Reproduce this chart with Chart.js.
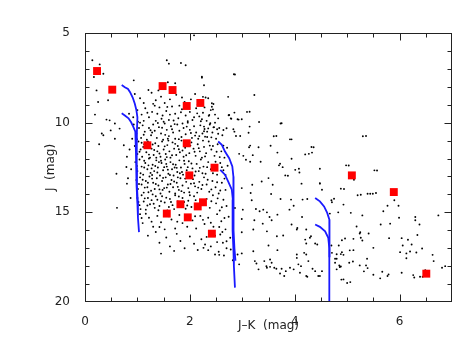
<!DOCTYPE html>
<html>
<head>
<meta charset="utf-8">
<script src="https://cdn.jsdelivr.net/npm/chart.js@4/dist/chart.umd.min.js"></script>
<style>
  html, body { margin: 0; padding: 0; background: #fff; }
  #cmd { display: block; }
</style>
</head>
<body>
<canvas id="cmd" width="466" height="360"></canvas>
<script>
// tick labels
const xTicks = [0, 2, 4, 6];
const yTicks = [5, 10, 15, 20];

// red squares (J-K, J)
const redStars = [
    [0.23, 7.12], [0.52, 8.16], [1.48, 7.96], [1.67, 8.18], [1.94, 9.07], [2.20, 8.90],
    [1.19, 11.26], [1.94, 11.15], [2.47, 12.51], [1.99, 12.94], [1.82, 14.55], [2.15, 14.67],
    [2.25, 14.44], [1.56, 15.07], [1.96, 15.28], [2.42, 16.19], [5.09, 12.94], [5.89, 13.87],
    [6.51, 18.42]
];

// blue tracks
const track1a = [[0.70, 7.9], [0.76, 8.02], [0.82, 8.12], [0.86, 8.3], [0.91, 8.6], [0.95, 8.95], [0.98, 9.3], [1.0, 9.7], [0.99, 10.5], [0.98, 11.5], [0.98, 12.5], [0.99, 13.5], [1.0, 14.5], [1.01, 15.3], [1.03, 16.1]];
const track1b = [[0.70, 9.48], [0.76, 9.6], [0.83, 9.76], [0.88, 9.98], [0.92, 10.22], [0.96, 10.5], [0.97, 10.8], [0.97, 11.5], [0.98, 12.5], [0.99, 13.5], [1.01, 14.6]];
const track2a = [[2.54, 11.05], [2.61, 11.24], [2.67, 11.61], [2.75, 11.98], [2.81, 12.44], [2.83, 13.0], [2.83, 14.0], [2.83, 15.0], [2.84, 16.0], [2.85, 17.0], [2.87, 17.7]];
const track2b = [[2.58, 12.63], [2.67, 12.9], [2.73, 13.28], [2.80, 13.74], [2.82, 14.29], [2.82, 15.0], [2.81, 16.0], [2.83, 17.0], [2.84, 18.0], [2.86, 19.2]];
const track3a = [[4.39, 14.2], [4.48, 14.39], [4.56, 14.67], [4.62, 15.03], [4.66, 15.4], [4.66, 16.0], [4.66, 16.8], [4.67, 17.5]];
const track3b = [[4.39, 15.68], [4.48, 15.81], [4.58, 16.06], [4.64, 16.42], [4.66, 17.0], [4.66, 18.0], [4.66, 19.0], [4.66, 20.0]];

// field stars (J-K, J)
const fieldLeft = [
    [0.14, 6.52], [0.28, 6.75], [0.35, 7.27], [0.17, 7.45], [0.22, 8.2], [0.25, 8.85], [0.44, 8.75],
    [0.19, 9.55], [0.41, 9.83], [0.47, 9.87], [0.32, 10.6], [0.35, 10.7], [0.57, 10.05], [0.57, 10.9],
    [0.27, 11.2], [0.6, 12.85], [0.61, 14.75], [0.49, 10.43], [0.66, 10.33], [0.74, 11.26], [0.80, 13.4],
    [0.93, 7.64], [0.84, 9.5], [0.79, 12.47], [0.85, 11.5], [0.88, 12.6], [0.82, 13.1], [0.87, 14.2],
    [0.9, 10.9], [0.8, 11.9], [2.08, 5.13], [1.56, 6.52], [1.60, 6.71], [1.83, 6.67], [1.92, 6.80],
    [2.84, 7.30], [2.23, 7.49]
];
const fieldCluster = [
    [1.05, 8.64], [1.21, 8.18], [1.27, 8.33], [1.12, 8.9], [1.35, 8.75], [1.45, 8.55], [1.52, 8.9], [1.62, 8.7],
    [1.74, 8.45], [1.85, 8.6], [1.90, 8.85], [2.02, 8.7], [2.10, 8.4], [2.30, 8.6], [1.40, 8.2], [1.58, 7.75],
    [1.72, 7.8], [0.95, 8.4], [2.15, 9.0], [1.30, 8.95],
    [1.0, 9.3], [1.08, 9.55], [1.15, 9.2], [1.22, 9.7], [1.28, 9.4], [1.35, 9.9], [1.42, 9.15], [1.48, 9.6],
    [1.55, 9.35], [1.60, 9.85], [1.66, 9.1], [1.72, 9.5], [1.78, 9.75], [1.85, 9.25], [1.92, 9.6], [2.0, 9.4],
    [2.05, 9.85], [2.12, 9.2], [2.18, 9.65], [2.25, 9.45], [2.32, 9.9], [2.40, 9.3], [2.48, 9.55], [1.12, 9.9],
    [1.50, 9.95], [1.80, 9.05], [2.08, 9.7], [1.38, 9.5], [1.62, 9.55], [1.96, 9.92], [2.28, 9.15], [0.92, 9.7],
    [0.93, 10.1], [0.98, 10.6], [1.03, 10.3], [1.07, 10.85], [1.10, 10.15], [1.14, 10.5], [1.18, 10.95], [1.22, 10.3],
    [1.26, 10.7], [1.30, 10.1], [1.33, 10.45], [1.37, 10.85], [1.41, 10.25], [1.45, 10.6], [1.49, 10.95], [1.52, 10.05],
    [1.56, 10.4], [1.60, 10.75], [1.64, 10.2], [1.68, 10.55], [1.72, 10.9], [1.76, 10.1], [1.80, 10.45], [1.84, 10.8],
    [1.88, 10.3], [1.92, 10.65], [1.96, 10.0], [2.0, 10.4], [2.04, 10.85], [2.08, 10.2], [2.12, 10.55], [2.16, 10.9],
    [2.20, 10.15], [2.24, 10.6], [2.28, 10.35], [2.33, 10.8], [2.38, 10.1], [2.43, 10.55], [2.50, 10.9], [2.56, 10.3],
    [2.62, 10.7], [1.05, 10.0], [1.28, 10.55], [1.58, 10.9], [1.86, 10.05], [2.18, 10.75], [2.46, 10.25],
    [0.95, 11.3], [1.0, 11.75], [1.02, 11.05], [1.06, 11.5], [1.09, 11.9], [1.13, 11.2], [1.17, 11.65], [1.20, 11.05],
    [1.24, 11.95], [1.27, 11.45], [1.31, 11.8], [1.34, 11.15], [1.38, 11.6], [1.40, 11.3], [1.44, 11.9], [1.47, 11.05],
    [1.50, 11.5], [1.54, 11.75], [1.57, 11.25], [1.61, 11.6], [1.63, 11.95], [1.67, 11.1], [1.70, 11.45], [1.74, 11.8],
    [1.77, 11.3], [1.81, 11.65], [1.84, 11.0], [1.88, 11.9], [1.91, 11.4], [1.99, 11.7], [2.03, 11.1], [2.07, 11.45],
    [2.11, 11.85], [2.15, 11.2], [2.19, 11.6], [2.23, 11.95], [2.27, 11.35], [2.31, 11.7], [2.36, 11.05], [2.41, 11.5],
    [2.47, 11.85], [2.53, 11.2], [2.60, 11.6], [2.66, 11.95], [2.71, 11.4], [1.11, 11.35], [1.36, 11.95], [1.59, 11.0],
    [1.86, 11.55], [2.25, 11.0], [2.44, 11.3],
    [0.96, 12.2], [1.0, 12.7], [1.04, 12.05], [1.08, 12.45], [1.11, 12.9], [1.15, 12.25], [1.19, 12.6], [1.22, 12.0],
    [1.25, 12.8], [1.29, 12.35], [1.32, 12.7], [1.36, 12.1], [1.39, 12.5], [1.43, 12.95], [1.46, 12.25], [1.49, 12.65],
    [1.53, 12.05], [1.56, 12.45], [1.59, 12.85], [1.63, 12.2], [1.66, 12.6], [1.69, 12.95], [1.73, 12.35], [1.76, 12.75],
    [1.80, 12.1], [1.83, 12.5], [1.87, 12.9], [1.90, 12.3], [1.94, 12.65], [1.98, 12.15], [2.05, 12.55], [2.09, 12.95],
    [2.13, 12.3], [2.17, 12.7], [2.21, 12.05], [2.26, 12.45], [2.30, 12.85], [2.35, 12.2], [2.40, 12.6], [2.52, 12.9],
    [2.58, 12.25], [2.64, 12.65], [2.72, 12.4], [1.13, 12.5], [1.41, 12.2], [1.71, 12.5], [2.0, 12.8], [1.27, 12.55],
    [1.55, 12.3], [1.85, 12.75],
    [0.98, 13.2], [1.01, 13.7], [1.05, 13.05], [1.08, 13.45], [1.12, 13.9], [1.16, 13.25], [1.19, 13.6], [1.23, 13.0],
    [1.26, 13.8], [1.30, 13.35], [1.33, 13.7], [1.37, 13.1], [1.40, 13.5], [1.44, 13.95], [1.47, 13.25], [1.51, 13.65],
    [1.54, 13.05], [1.58, 13.45], [1.61, 13.85], [1.65, 13.2], [1.68, 13.6], [1.72, 13.95], [1.75, 13.35], [1.79, 13.75],
    [1.82, 13.1], [1.86, 13.5], [1.89, 13.9], [1.93, 13.3], [1.97, 13.65], [2.06, 13.15], [2.10, 13.55], [2.14, 13.9],
    [2.18, 13.3], [2.22, 13.7], [2.27, 13.05], [2.32, 13.45], [2.37, 13.85], [2.43, 13.25], [2.49, 13.6], [2.55, 13.95],
    [2.61, 13.35], [2.68, 13.75], [1.20, 13.35], [1.48, 13.75], [1.77, 13.05], [2.02, 13.4],
    [1.0, 14.2], [1.04, 14.6], [1.08, 14.05], [1.12, 14.4], [1.16, 14.85], [1.20, 14.2], [1.24, 14.55], [1.29, 14.0],
    [1.33, 14.75], [1.38, 14.3], [1.42, 14.65], [1.47, 14.1], [1.52, 14.45], [1.57, 14.9], [1.62, 14.25], [1.67, 14.6],
    [1.72, 14.05], [1.77, 14.4], [1.86, 14.2], [1.92, 14.8], [1.97, 14.35], [2.03, 14.7], [2.08, 14.1], [2.32, 14.25],
    [2.38, 14.75], [2.44, 14.05], [2.50, 14.5], [2.57, 14.9], [2.64, 14.3], [2.70, 14.65], [1.35, 14.1], [1.60, 14.7],
    [2.0, 14.05],
    [1.05, 15.1], [1.10, 15.6], [1.22, 15.3], [1.30, 15.8], [1.38, 15.2], [1.45, 15.55], [1.65, 15.4], [1.72, 15.9],
    [1.80, 15.15], [1.86, 15.6], [2.05, 15.45], [2.12, 15.9], [2.20, 15.2], [2.28, 15.65], [2.35, 15.3], [2.45, 15.8],
    [2.52, 15.1], [2.60, 15.5], [2.68, 15.95], [2.74, 15.25], [1.52, 15.95], [1.95, 15.8],
    [1.20, 16.3], [1.35, 16.1], [1.42, 16.7], [1.55, 16.4], [1.62, 16.9], [1.75, 16.2], [1.82, 16.6], [1.90, 17.0],
    [2.00, 16.35], [2.08, 16.75], [2.15, 17.1], [2.22, 16.5], [2.40, 16.9], [2.48, 16.3], [2.62, 16.1], [2.70, 17.0],
    [1.70, 17.15], [2.55, 17.2], [1.45, 17.3],
    [2.26, 16.98], [2.35, 17.11], [2.48, 17.35], [2.56, 17.37], [2.65, 17.41], [2.52, 16.66], [2.63, 16.7], [2.70, 16.61],
    [2.77, 16.42], [2.78, 17.07], [2.82, 17.67], [2.58, 16.24], [2.32, 16.37], [2.29, 16.79]
];
const fieldCluster2 = [
    [1.01, 9.95], [1.19, 9.45], [1.33, 9.05], [1.46, 9.78], [1.57, 9.12], [1.69, 9.88], [1.83, 9.42], [1.99, 9.18],
    [2.14, 9.48], [2.36, 9.62], [2.21, 9.92], [1.25, 10.42], [1.39, 10.02], [1.53, 10.68], [1.66, 10.37], [1.79, 10.92],
    [1.94, 10.22], [2.10, 10.72], [2.27, 10.48], [2.41, 10.82], [2.54, 10.62], [1.12, 10.67], [0.99, 10.92], [1.47, 10.28],
    [1.71, 10.08], [2.02, 10.58], [2.35, 10.32],
    [1.04, 11.62], [1.15, 11.42], [1.22, 11.78], [1.29, 11.22], [1.42, 11.72], [1.52, 11.32], [1.66, 11.82], [1.72, 11.18],
    [1.79, 11.48], [1.93, 11.82], [2.01, 11.28], [2.09, 11.62], [2.17, 11.42], [2.29, 11.88], [2.38, 11.28], [2.51, 11.62],
    [2.57, 11.92], [2.64, 11.28], [1.08, 11.12], [1.32, 11.52], [1.56, 11.92], [1.95, 11.08],
    [0.99, 12.42], [1.06, 12.82], [1.13, 12.12], [1.21, 12.38], [1.28, 12.92], [1.34, 12.42], [1.38, 12.78], [1.45, 12.12],
    [1.51, 12.48], [1.58, 12.62], [1.62, 12.92], [1.68, 12.32], [1.75, 12.52], [1.81, 12.82], [1.89, 12.12], [1.96, 12.48],
    [2.03, 12.28], [2.11, 12.72], [2.19, 12.52], [2.24, 12.82], [2.33, 12.48], [2.44, 12.82], [2.49, 12.18], [2.61, 12.48],
    [2.68, 12.92],
    [1.03, 13.42], [1.10, 13.18], [1.14, 13.62], [1.21, 13.88], [1.28, 13.12], [1.35, 13.42], [1.42, 13.72], [1.49, 13.08],
    [1.56, 13.62], [1.63, 13.42], [1.70, 13.28], [1.77, 13.58], [1.84, 13.82], [1.91, 13.12], [1.99, 13.88], [2.08, 13.38],
    [2.16, 13.62], [2.24, 13.48], [2.34, 13.18], [2.41, 13.72], [2.52, 13.32], [2.58, 13.78], [2.66, 13.12],
    [1.02, 14.42], [1.06, 14.82], [1.14, 14.22], [1.19, 14.62], [1.27, 14.32], [1.31, 14.52], [1.40, 14.88], [1.45, 14.38],
    [1.55, 14.18], [1.64, 14.42], [1.70, 14.82], [1.79, 14.12], [1.89, 14.42], [1.95, 14.62], [2.11, 14.32], [2.29, 14.52],
    [2.41, 14.38], [2.53, 14.22], [2.61, 14.72],
    [1.08, 15.32], [1.16, 15.08], [1.27, 15.52], [1.42, 15.82], [1.60, 15.22], [1.76, 15.52], [2.10, 15.22], [2.25, 15.42],
    [2.40, 15.58], [2.56, 15.82], [2.66, 15.32]
];
const fieldUpper = [
    [2.86, 7.31], [2.23, 7.44], [2.27, 7.91], [2.25, 8.56], [2.35, 8.64], [2.42, 8.92], [2.45, 8.96], [2.42, 9.11],
    [2.44, 9.26], [2.73, 8.56], [3.23, 8.46], [3.14, 9.39], [2.85, 9.44], [2.75, 9.57], [2.78, 9.76], [2.91, 9.81],
    [2.99, 9.81], [3.32, 9.96], [3.14, 10.22], [3.75, 10.03], [2.54, 9.76], [2.48, 10.0], [2.37, 9.57], [2.39, 10.03],
    [2.45, 10.26], [2.52, 10.37], [2.64, 10.41], [2.70, 10.31], [2.83, 10.37], [2.85, 10.5], [2.96, 10.74], [3.12, 10.56],
    [3.94, 10.93], [2.27, 10.22], [2.33, 10.5], [2.23, 9.81], [2.29, 10.78], [2.93, 9.83], [3.09, 9.4], [2.74, 9.59],
    [2.79, 9.78], [3.73, 10.05], [3.60, 10.76], [3.91, 10.93], [4.32, 11.36], [4.20, 11.77], [3.94, 12.01], [3.70, 12.38],
    [3.82, 12.94], [4.13, 13.40], [4.48, 12.57], [4.48, 13.40], [4.88, 13.68], [5.30, 10.76], [5.20, 14.05], [5.39, 13.96],
    [5.49, 13.96], [5.52, 12.66], [4.98, 12.38], [4.70, 14.33], [4.67, 15.07]
];
const fieldMiddle = [
    [2.88, 10.74], [3.65, 10.74], [3.15, 11.28], [3.13, 11.37], [3.31, 11.37], [3.54, 11.29], [3.67, 11.67], [2.94, 11.74],
    [3.02, 11.85], [3.20, 11.81], [3.07, 12.07], [3.15, 12.18], [3.35, 12.18], [3.72, 12.29], [3.77, 12.48], [3.87, 12.96],
    [4.01, 12.63], [4.08, 12.57], [4.09, 12.78], [4.27, 11.74], [4.33, 11.67], [4.36, 11.37], [3.50, 13.09], [3.19, 13.46],
    [3.37, 13.28], [3.58, 13.46], [2.99, 13.65], [3.16, 13.92], [3.55, 13.98], [3.73, 14.26], [3.93, 14.29], [4.15, 14.29],
    [4.48, 13.37], [4.52, 13.74], [4.24, 14.26], [3.18, 14.33], [2.86, 14.76], [3.01, 14.85], [3.26, 14.81], [3.33, 14.94],
    [3.40, 14.85], [3.47, 15.0], [3.52, 15.26], [3.67, 15.13], [3.90, 14.85], [3.98, 14.63], [4.14, 15.26], [2.99, 15.37],
    [3.23, 15.44], [3.39, 15.63], [3.56, 15.44], [3.94, 15.68], [4.05, 15.87], [4.22, 15.96], [4.31, 16.33], [3.21, 15.96],
    [3.47, 16.06], [2.99, 16.11], [3.66, 16.33], [3.78, 16.29], [4.04, 15.96],
    [2.91, 17.35], [2.99, 17.29], [2.94, 17.9], [3.21, 17.17], [3.24, 17.72], [3.27, 17.85], [3.42, 17.72], [3.50, 16.85],
    [3.53, 17.63], [3.31, 18.18], [3.47, 18.09], [3.46, 18.0], [3.53, 18.04], [3.56, 17.81], [3.61, 18.09], [3.67, 17.11],
    [3.65, 18.15], [3.72, 18.41], [3.75, 18.15], [3.80, 18.55], [3.83, 18.28], [3.91, 18.09], [3.98, 18.18], [4.04, 17.54],
    [4.07, 17.9], [4.10, 18.37], [4.12, 18.0], [4.22, 18.55], [4.24, 18.59], [4.26, 17.72], [4.29, 16.42], [4.20, 16.52],
    [4.22, 16.74], [4.39, 16.74], [4.43, 16.79], [4.34, 18.15], [4.39, 18.28], [4.45, 18.55], [4.48, 18.55], [4.52, 18.28],
    [4.22, 17.35], [4.18, 17.26], [4.71, 17.26], [4.80, 17.59], [4.77, 17.81], [4.04, 17.35]
];
const fieldRight = [
    [5.36, 10.74], [5.03, 12.39], [5.13, 13.18], [5.57, 12.67], [4.94, 13.7], [5.26, 14.02], [5.44, 13.96], [5.55, 13.92],
    [4.75, 14.24], [4.71, 14.44], [4.93, 14.57], [5.90, 14.33], [5.98, 14.63], [5.77, 14.63], [5.69, 14.94], [4.83, 15.0],
    [5.07, 15.03], [5.29, 15.17], [6.30, 15.26], [6.74, 15.17], [5.99, 15.3], [6.30, 15.44], [5.82, 15.63], [5.64, 15.68],
    [6.38, 15.68], [5.18, 15.79], [5.25, 16.11], [5.24, 16.18], [5.41, 16.18], [6.34, 16.26], [4.96, 16.46], [5.12, 16.48],
    [5.26, 16.42], [5.29, 16.57], [5.80, 16.44], [6.04, 16.44], [6.16, 16.53], [6.23, 16.79], [6.06, 16.85], [4.70, 16.85],
    [4.84, 16.85], [5.50, 16.98], [6.43, 17.02], [6.01, 17.22], [6.13, 17.29], [6.20, 17.18], [6.32, 17.24], [5.12, 17.11],
    [4.90, 17.22], [4.88, 17.33], [4.93, 17.37], [4.77, 17.59], [5.38, 17.59], [6.13, 17.56], [6.63, 17.37], [6.65, 17.72],
    [5.04, 17.81], [5.11, 17.74], [4.85, 17.96], [4.88, 18.02], [5.24, 17.96], [5.36, 17.96], [5.39, 18.11], [4.80, 18.18],
    [5.32, 18.29], [5.67, 18.31], [5.79, 18.46], [5.77, 18.55], [5.50, 18.48], [5.63, 18.68], [6.04, 18.37], [6.26, 18.5],
    [6.28, 18.63], [6.39, 18.59], [6.44, 18.59], [6.49, 18.22], [6.87, 18.0], [4.93, 18.74], [5.06, 18.89], [5.0, 18.94],
    [6.81, 18.09], [4.80, 17.34], [4.86, 18.05], [4.89, 18.75], [4.90, 16.56], [5.05, 17.12]
];

const toXY = arr => arr.map(p => ({ x: p[0], y: p[1] }));
const fieldStars = [].concat(fieldLeft, fieldCluster, fieldCluster2, fieldUpper, fieldMiddle, fieldRight);

// inward ticks on all four sides + frame
const frameTicks = {
    id: 'frameTicks',
    afterDraw(chart) {
        const { ctx, chartArea: a, scales: { x, y } } = chart;
        const l = Math.round(a.left) + 0.5, r = Math.round(a.right) - 0.5;
        const t = Math.round(a.top) + 0.5, b = Math.round(a.bottom) - 0.5;
        ctx.save();
        ctx.strokeStyle = '#222';
        ctx.lineWidth = 1;
        ctx.strokeRect(l, t, r - l, b - t);
        ctx.beginPath();
        for (let v = 0.5; v < 7; v += 0.5) {
            const px = Math.round(x.getPixelForValue(v)) + 0.5;
            const len = (v % 2 === 0) ? 7 : 4;
            ctx.moveTo(px, b); ctx.lineTo(px, b - len);
            ctx.moveTo(px, t); ctx.lineTo(px, t + len);
        }
        for (let v = 6; v < 20; v += 1) {
            const py = Math.round(y.getPixelForValue(v)) + 0.5;
            const len = (v % 5 === 0) ? 7 : 4;
            ctx.moveTo(l, py); ctx.lineTo(l + len, py);
            ctx.moveTo(r, py); ctx.lineTo(r - len, py);
        }
        ctx.stroke();
        ctx.restore();
    }
};

const blueLine = data => ({
    type: 'line',
    data: toXY(data),
    borderColor: '#1a1aff',
    borderWidth: 1.8,
    pointRadius: 0,
    fill: false,
    tension: 0
});

const ctx = document.getElementById('cmd').getContext('2d');
new Chart(ctx, {
    type: 'scatter',
    data: {
        datasets: [
            {
                data: toXY(redStars),
                pointStyle: 'rect',
                pointRadius: 5.6,
                backgroundColor: '#ff0000',
                borderWidth: 0
            },
            blueLine(track1a), blueLine(track1b),
            blueLine(track2a), blueLine(track2b),
            blueLine(track3a), blueLine(track3b),
            {
                data: toXY(fieldStars),
                pointRadius: 0.95,
                backgroundColor: '#000',
                borderWidth: 0
            }
        ]
    },
    options: {
        responsive: false,
        animation: false,
        layout: { padding: { left: 0, right: 14, top: 33, bottom: 0 } },
        plugins: { legend: { display: false }, tooltip: { enabled: false } },
        scales: {
            x: {
                type: 'linear',
                min: 0, max: 7,
                grid: { display: false },
                border: { display: false },
                afterBuildTicks: s => { s.ticks = xTicks.map(v => ({ value: v })); },
                afterFit: s => { s.height = 58; },
                ticks: { padding: 5, color: '#222', font: { family: 'DejaVu Sans', size: 12 } },
                title: {
                    display: true, text: 'J\u2013K  (mag)', color: '#222',
                    font: { family: 'DejaVu Sans', size: 12 },
                    padding: { top: 0, bottom: 27 }
                }
            },
            y: {
                type: 'linear',
                reverse: true,
                min: 5, max: 20,
                grid: { display: false },
                border: { display: false },
                afterBuildTicks: s => { s.ticks = yTicks.map(v => ({ value: v })); },
                afterFit: s => { s.width = 85; },
                ticks: { padding: 7, color: '#222', font: { family: 'DejaVu Sans', size: 12 } },
                title: {
                    display: true, text: 'J  (mag)', color: '#222',
                    font: { family: 'DejaVu Sans', size: 12 },
                    padding: { top: 44, bottom: 0 }
                }
            }
        }
    },
    plugins: [frameTicks]
});
</script>
</body>
</html>
